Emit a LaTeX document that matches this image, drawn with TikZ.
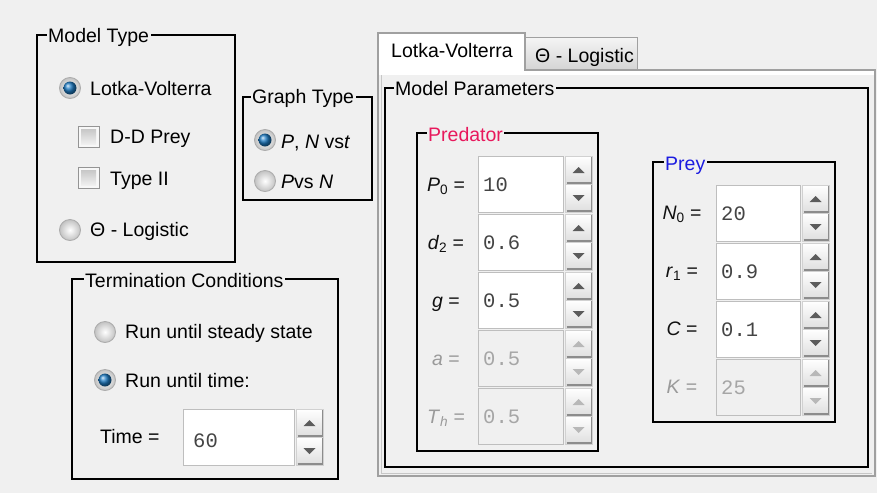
\documentclass[tikz,border=0pt]{standalone}
\usepackage{fontspec}
\setmainfont{Liberation Sans}
\setmonofont{Liberation Mono}
\usetikzlibrary{positioning}
\definecolor{panelbg}{HTML}{F0F0F0}
\definecolor{tabline}{HTML}{A0A0A0}
\definecolor{fieldline}{HTML}{BEBEBE}
\definecolor{fillon}{HTML}{FFFFFF}
\definecolor{filloff}{HTML}{F0F0F0}
\definecolor{labon}{HTML}{111111}
\definecolor{laboff}{HTML}{9A9A9A}
\definecolor{valon}{HTML}{444444}
\definecolor{valoff}{HTML}{A6A6A6}
\definecolor{trion}{HTML}{5C5C5C}
\definecolor{trioff}{HTML}{B8B8B8}
\definecolor{predred}{HTML}{E8185C}
\definecolor{preyblue}{HTML}{1C1CE0}
\definecolor{radioblue}{HTML}{1E7CC4}
\newcommand{\guifont}{\fontsize{19.5}{23}\selectfont}
\newcommand{\numfont}{\ttfamily\fontsize{20.5}{23}\selectfont}

\tikzstyle{frame}=[draw=black,line width=1.5pt]
\tikzstyle{caption}=[fill=panelbg,font=\guifont,anchor=base west,inner xsep=1.5pt,inner ysep=1pt]
\tikzstyle{guitext}=[font=\guifont,anchor=base west,inner sep=0pt]
\tikzstyle{numtext}=[font=\numfont,anchor=base west,inner sep=0pt]
\tikzstyle{field}=[draw=fieldline,line width=1pt,anchor=north west,inner sep=0pt]
\tikzstyle{button}=[draw=black!18,line width=0.8pt,top color=white,bottom color=black!13]
\tikzstyle{radio}=[circle,draw=black!32,line width=0.9pt,inner color=white,outer color=black!24,minimum size=21pt,inner sep=0pt]
\tikzstyle{dot}=[circle,ball color=radioblue,minimum size=13pt,inner sep=0pt]
\tikzstyle{checkbox}=[rectangle,draw=black!42,fill=black!3,minimum size=21pt,inner sep=0pt]
\tikzstyle{checkin}=[rectangle,top color=black!22,bottom color=black!6,minimum size=15pt,inner sep=0pt]

\tikzset{
  pics/spinner/.style={code={
    \draw[button] (0,0) rectangle (27,28);
    \draw[button] (0,28) rectangle (27,56);
    \draw[black!45,line width=1.2pt] (1.5,27) -- (26.5,27) -- (26.5,1);
    \draw[black!45,line width=1.2pt] (1.5,55) -- (26.5,55) -- (26.5,29);
    \fill[#1] (7.5,17) -- (19.5,17) -- (13.5,11) -- cycle;
    \fill[#1] (7.5,39) -- (19.5,39) -- (13.5,45) -- cycle;
  }}
}

\begin{document}
\begin{tikzpicture}[x=1pt,y=-1pt]
  \fill[panelbg] (0,0) rectangle (877,493);
  \useasboundingbox (0,0) rectangle (877,493);

  % model type
  \draw[frame] (37,35) rectangle (235,262);
  \node[caption] (mtcap) at (46.5,42) {Model Type};
  \node[radio] (lvradio) at (70,88) {};
  \node[dot] (lvdot) at (lvradio) {};
  \node[guitext] (lvtext) at (90,95) {Lotka-Volterra};
  \node[checkbox] (ddbox) at (88.5,136.5) {};
  \node[checkin] (ddin) at (ddbox) {};
  \node[guitext] (ddtext) at (110,143) {D-D Prey};
  \node[checkbox] (t2box) at (88.5,177.5) {};
  \node[checkin] (t2in) at (t2box) {};
  \node[guitext] (t2text) at (110,185) {Type II};
  \node[radio] (logradio) at (70,230) {};
  \node[guitext] (logtext) at (90,236) {Θ - Logistic};

  % graph type
  \draw[frame] (243,97) rectangle (372,200);
  \node[caption] (gtcap) at (250.5,103) {Graph Type};
  \node[radio] (ptradio) at (265,140) {};
  \node[dot] (ptdot) at (ptradio) {};
  \node[guitext] (pttext) at (281,148) {\textit{P}, \textit{N} vs\textit{t}};
  \node[radio] (pnradio) at (265,181) {};
  \node[guitext] (pntext) at (281,188) {\textit{P}vs \textit{N}};

  % termination conditions
  \draw[frame] (72,279) rectangle (338,479);
  \node[caption] (tccap) at (83.5,287) {Termination Conditions};
  \node[radio] (ssradio) at (105,332) {};
  \node[guitext] (sstext) at (125,338) {Run until steady state};
  \node[radio] (rtradio) at (105,380) {};
  \node[dot] (rtdot) at (rtradio) {};
  \node[guitext] (rttext) at (125,387) {Run until time:};
  \node[guitext] (timelab) at (100,443) {Time =};
  \node[field,fill=white,minimum width=111pt,minimum height=56pt] (timebox) at (183,409) {};
  \node[numtext,text=valon] (timeval) at (193,447) {60};
  \pic at (296,409) {spinner=trion};

  % tabs and panel
  \draw[tabline,top color=black!4,bottom color=black!17] (525,37) rectangle (637,70);
  \node[guitext] (logtab) at (535,62) {Θ - Logistic};
  \draw[tabline,fill=panelbg,line width=1.2pt] (378,70) rectangle (875,476);
  \draw[black!22,line width=1pt] (381,73) |- (872,473);
  \fill[white] (379,71) rectangle (874,75);
  \fill[white] (378.6,33.6) rectangle (524.4,75);
  \draw[tabline,line width=1.2pt] (378,76) |- (525,33) -- (525,70);
  \node[guitext] (lvtab) at (391,57) {Lotka-Volterra};

  % model parameters
  \draw[frame] (385,88) rectangle (868,467);
  \node[caption] (mpcap) at (393.5,95) {Model Parameters};

  % predator
  \draw[frame] (417,133) rectangle (598,451);
  \node[caption,text=predred] (predcap) at (426.5,141) {Predator};
  \foreach \y/\lab/\val/\st [count=\i] in {156/{\textit{P}\textsubscript{0}}/10/on,
      214/{\textit{d}\textsubscript{2}}/0.6/on, 272/{\textit{g}}/0.5/on,
      330/{\textit{a}}/0.5/off, 388/{\textit{T}\textsubscript{\textit{h}}}/0.5/off}
  {
    \node[field,fill=fill\st,minimum width=85pt,minimum height=56pt] (pred\i) at (478,\y) {};
    \node[guitext,text=lab\st,anchor=base] (predlab\i) at (446,\y+35) {\lab{} =};
    \node[numtext,text=val\st] (predval\i) at (483,\y+35) {\val};
    \pic at (565,\y) {spinner=tri\st};
  }

  % prey
  \draw[frame] (653,162) rectangle (835,422);
  \node[caption,text=preyblue] (preycap) at (663.5,170) {Prey};
  \foreach \y/\lab/\val/\st [count=\i] in {185/{\textit{N}\textsubscript{0}}/20/on,
      243/{\textit{r}\textsubscript{1}}/0.9/on, 301/{\textit{C}}/0.1/on,
      359/{\textit{K}}/25/off}
  {
    \node[field,fill=fill\st,minimum width=84pt,minimum height=56pt] (prey\i) at (716,\y) {};
    \node[guitext,text=lab\st,anchor=base] (preylab\i) at (682,\y+34) {\lab{} =};
    \node[numtext,text=val\st] (preyval\i) at (721,\y+35) {\val};
    \pic at (802,\y) {spinner=tri\st};
  }
\end{tikzpicture}
\end{document}
